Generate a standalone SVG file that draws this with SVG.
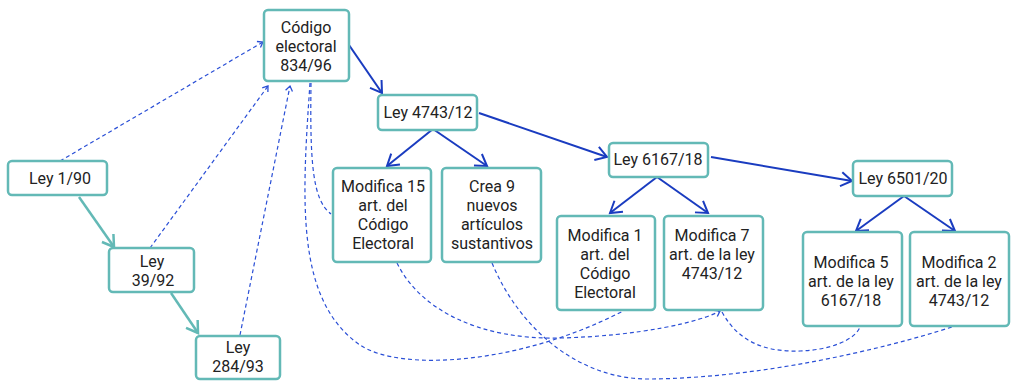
<svg xmlns="http://www.w3.org/2000/svg" width="1012" height="383" viewBox="0 0 1012 383">
<style>
.box{fill:#fff;stroke:#63b9b6;stroke-width:2.5}
.t{font-family:Roboto,"Liberation Sans",sans-serif;font-size:16px;fill:#222;text-anchor:middle}
.sb{fill:none;stroke:#1a3cc0;stroke-width:2;marker-end:url(#ab)}
.st{fill:none;stroke:#63b9b6;stroke-width:2.5;marker-end:url(#at)}
.d{fill:none;stroke:#2a4fd6;stroke-width:1.2;stroke-dasharray:4 3}
.da{marker-end:url(#ad)}
</style>
<defs>
<marker id="ab" markerUnits="userSpaceOnUse" viewBox="-12 -10 14 20" markerWidth="14" markerHeight="20" refX="0" refY="0" orient="auto" overflow="visible"><path d="M-11,-7 L0,0 L-11,7" fill="none" stroke="#1a3cc0" stroke-width="2"/></marker>
<marker id="at" markerUnits="userSpaceOnUse" viewBox="-12 -10 14 20" markerWidth="14" markerHeight="20" refX="0" refY="0" orient="auto" overflow="visible"><path d="M-11,-7 L0,0 L-11,7" fill="none" stroke="#63b9b6" stroke-width="2.5"/></marker>
<marker id="ad" markerUnits="userSpaceOnUse" viewBox="-8 -6 10 12" markerWidth="10" markerHeight="12" refX="0" refY="0" orient="auto" overflow="visible"><path d="M-5,-3.5 L0,0 L-5,3.5" fill="none" stroke="#2a4fd6" stroke-width="1.3"/></marker>
</defs>
<g id="connectors">
<path class="sb" d="M349,45 L382,93"/>
<path class="sb" d="M479,113 L607,157"/>
<path class="sb" d="M711,157 L852,181"/>
<path class="sb" d="M433,129 L387,166"/>
<path class="sb" d="M433,129 L487,166"/>
<path class="sb" d="M657,177 L610,213"/>
<path class="sb" d="M657,177 L708,213"/>
<path class="sb" d="M904,196 L856,231"/>
<path class="sb" d="M904,196 L955,231"/>
<path class="st" d="M79,197 L114,247"/>
<path class="st" d="M171,293 L198,333"/>
<path class="d da" d="M60,161 L263,42"/>
<path class="d da" d="M150,248 L268,86"/>
<path class="d da" d="M240,335 L290,86"/>
<path class="d" d="M311,83 C310,160 312,200 331,214"/>
<path class="d" d="M310,83 C302,200 295,300 360,345 C400,372 520,365 625,310"/>
<path class="d da" d="M397,263 C420,310 480,340 560,338 C640,336 700,322 720,311"/>
<path class="d" d="M492,263 C520,330 580,380 650,379 C760,378 880,350 952,327"/>
<path class="d" d="M722,312 C740,345 770,352 800,351 C830,350 855,340 860,327"/>
</g>
<g id="n-codigo"><rect class="box" x="264" y="10" width="85" height="71" rx="4"/><text class="t" x="306"><tspan x="306" y="33">Código</tspan><tspan x="306" y="52">electoral</tspan><tspan x="306" y="71">834/96</tspan></text></g>
<g id="n-ley190"><rect class="box" x="8" y="161" width="99" height="34" rx="4"/><text class="t" x="60" y="184">Ley 1/90</text></g>
<g id="n-ley3992"><rect class="box" x="109" y="248" width="85" height="44" rx="4"/><text class="t"><tspan x="152" y="267">Ley</tspan><tspan x="153" y="286">39/92</tspan></text></g>
<g id="n-ley28493"><rect class="box" x="196" y="336" width="84" height="43" rx="4"/><text class="t"><tspan x="238" y="353">Ley</tspan><tspan x="238" y="372">284/93</tspan></text></g>
<g id="n-ley474312"><rect class="box" x="378" y="95" width="99" height="35" rx="4"/><text class="t" x="428" y="118">Ley 4743/12</text></g>
<g id="n-mod15"><rect class="box" x="333" y="168" width="98" height="94" rx="4"/><text class="t"><tspan x="383" y="192">Modifica 15</tspan><tspan x="383" y="211">art. del</tspan><tspan x="383" y="230">Código</tspan><tspan x="383" y="249">Electoral</tspan></text></g>
<g id="n-crea9"><rect class="box" x="442" y="168" width="99" height="94" rx="4"/><text class="t"><tspan x="492" y="192">Crea 9</tspan><tspan x="492" y="211">nuevos</tspan><tspan x="492" y="230">artículos</tspan><tspan x="492" y="249">sustantivos</tspan></text></g>
<g id="n-ley616718"><rect class="box" x="609" y="143" width="99" height="34" rx="4"/><text class="t" x="658" y="165">Ley 6167/18</text></g>
<g id="n-mod1"><rect class="box" x="557" y="216" width="98" height="94" rx="4"/><text class="t"><tspan x="605" y="241">Modifica 1</tspan><tspan x="605" y="260">art. del</tspan><tspan x="605" y="279">Código</tspan><tspan x="605" y="298">Electoral</tspan></text></g>
<g id="n-mod7"><rect class="box" x="664" y="216" width="99" height="94" rx="4"/><text class="t"><tspan x="712" y="241">Modifica 7</tspan><tspan x="712" y="260">art. de la ley</tspan><tspan x="712" y="279">4743/12</tspan></text></g>
<g id="n-ley650120"><rect class="box" x="853" y="161" width="99" height="35" rx="4"/><text class="t" x="903" y="184">Ley 6501/20</text></g>
<g id="n-mod5"><rect class="box" x="803" y="232" width="99" height="94" rx="4"/><text class="t"><tspan x="851" y="268">Modifica 5</tspan><tspan x="851" y="287">art. de la ley</tspan><tspan x="851" y="306">6167/18</tspan></text></g>
<g id="n-mod2"><rect class="box" x="910" y="232" width="99" height="94" rx="4"/><text class="t"><tspan x="959" y="268">Modifica 2</tspan><tspan x="959" y="287">art. de la ley</tspan><tspan x="959" y="306">4743/12</tspan></text></g>
</svg>
